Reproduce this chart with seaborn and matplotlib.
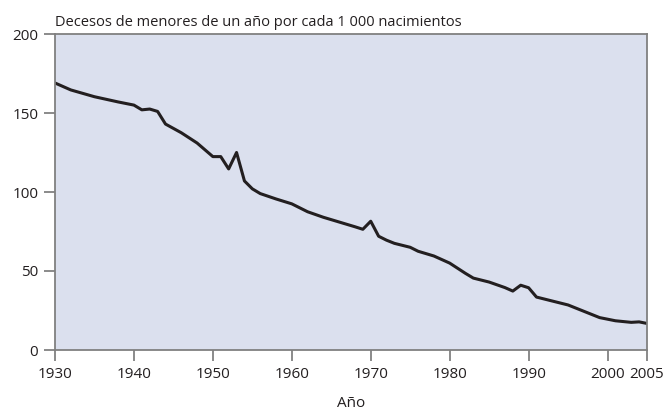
import numpy as np
import pandas as pd
import matplotlib
matplotlib.use("Agg")
import matplotlib.pyplot as plt
import seaborn as sns

years = [1930, 1932, 1935, 1938, 1940, 1941, 1942, 1943, 1944, 1946, 1948, 1950,
         1951, 1952, 1953, 1954, 1955, 1956, 1958, 1960, 1962, 1964, 1966, 1968,
         1969, 1970, 1971, 1972, 1973, 1975, 1976, 1978, 1980, 1982, 1983, 1985,
         1987, 1988, 1989, 1990, 1991, 1993, 1995, 1997, 1999, 2000, 2001, 2002,
         2003, 2004, 2005]
deaths = [169, 164.6, 160.3, 157, 155, 152, 152.5, 151, 143, 137.5, 131, 122.4,
          122.4, 114.6, 125, 107, 102, 99, 95.6, 92.5, 87.5, 84, 81, 78,
          76.4, 81.5, 72, 69.5, 67.5, 65, 62.5, 59.5, 55, 48.5, 45.5, 43,
          39.5, 37.3, 41, 39.4, 33.5, 31, 28.5, 24.5, 20.5, 19.5, 18.5, 18,
          17.5, 17.8, 16.8]
xticks = [1930, 1940, 1950, 1960, 1970, 1980, 1990, 2000, 2005]
yticks = [0, 50, 100, 150, 200]

df = pd.DataFrame({"Año": years, "Decesos": deaths})

sns.set_style("white")
plt.rcParams['font.family'] = ['Open Sans', 'DejaVu Sans']

fig = plt.figure(figsize=(6.66, 4.18), dpi=100)
ax = fig.add_axes([55 / 666, 1 - 350 / 418, 592 / 666, 316 / 418])
ax.set_facecolor("#dbe0ee")

sns.lineplot(data=df, x="Año", y="Decesos", ax=ax, color="#231f20", linewidth=2.2)

ax.set_xlim(1930, 2005)
ax.set_ylim(0, 200)
ax.set_xticks(xticks)
ax.set_yticks(yticks)
ax.tick_params(axis="both", direction="out", length=8, width=1.2, color="#777777",
               labelsize=11, labelcolor="#231f20", pad=4, left=True, bottom=True)
for s in ax.spines.values():
    s.set_color("#808080")
    s.set_linewidth(1.3)

ax.set_ylabel("")
ax.set_xlabel("Año", fontsize=11, color="#231f20", va="center")
ax.xaxis.set_label_coords(0.5, -0.168)
ax.set_title("Decesos de menores de un año por cada 1 000 nacimientos", loc="left",
             fontsize=10.5, color="#231f20", pad=6)

fig.savefig("out.png", dpi=100)
